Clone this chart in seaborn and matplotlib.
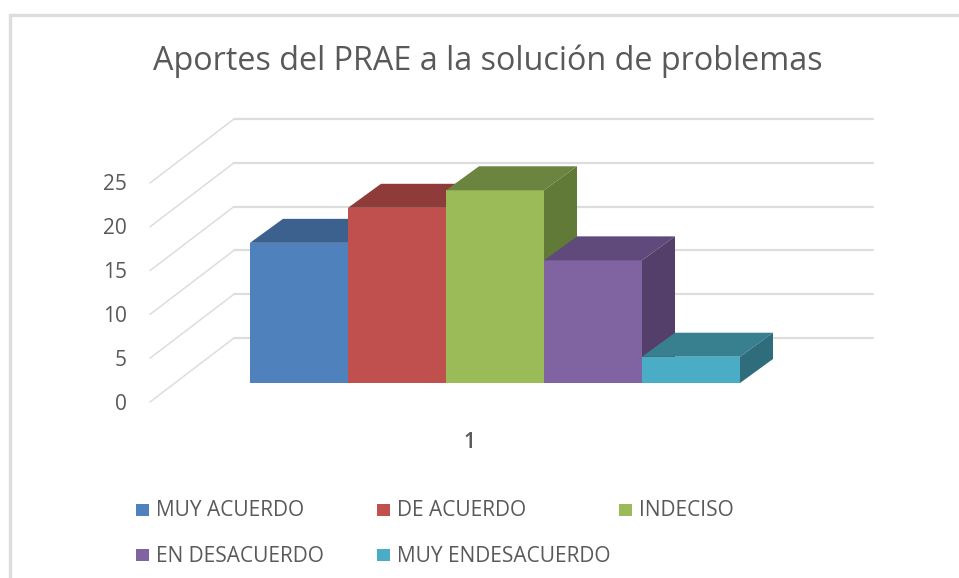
import matplotlib
matplotlib.use('Agg')
import matplotlib.pyplot as plt
import pandas as pd
import seaborn as sns
from matplotlib.patches import Polygon, Rectangle
from matplotlib.transforms import Affine2D

categories = ['MUY ACUERDO', 'DE ACUERDO', 'INDECISO', 'EN DESACUERDO', 'MUY ENDESACUERDO']
values = [16, 20, 22, 14, 3]
y_ticks = [0, 5, 10, 15, 20, 25]
front_colors = ['#4F81BD', '#C0504D', '#9BBB59', '#8064A2', '#4BACC6']
top_colors = ['#3D618F', '#8F3B39', '#6B8440', '#604A7B', '#38808F']
side_colors = ['#3A5A85', '#7F3432', '#617A37', '#533F6A', '#2F6D7D']

W, H = 959, 578
PX_PER_UNIT = 8.76
BASE_Y = 383
BAR_LEFT, BAR_RIGHT = 250, 740
UNIT_X = (BAR_RIGHT - BAR_LEFT) / 0.8
DEPTH_X, DEPTH_Y = 33, 24
GREY = '#DDDDDD'
TEXT = '#595959'

sns.set_theme(style='white')
plt.rcParams['font.family'] = ['Open Sans', 'DejaVu Sans']

fig = plt.figure(figsize=(W / 100, H / 100), dpi=100)
ax = fig.add_axes([0, 0, 1, 1])
px = Affine2D().scale(1, -1).translate(0, H)

df = pd.DataFrame({'x': ['1'] * 5, 'respuesta': categories, 'n': values})
sns.barplot(data=df, x='x', y='n', hue='respuesta', palette=front_colors, width=0.8,
            gap=0, legend=False, ax=ax, linewidth=0, saturation=1)

center = (BAR_LEFT + BAR_RIGHT) / 2
ax.set_xlim(-center / UNIT_X, (W - center) / UNIT_X)
ax.set_ylim(-(H - BASE_Y) / PX_PER_UNIT, BASE_Y / PX_PER_UNIT)
ax.axis('off')

# chart frame, only top and left show in the crop
ax.plot([10, 10, W], [H, 14.5, 14.5], color=GREY, lw=2.4, transform=px, clip_on=False,
        solid_joinstyle='miter')

# back wall and side wall lines
for v in y_ticks:
    y_back = 338 - v * PX_PER_UNIT
    y_front = 402 - v * PX_PER_UNIT
    ax.plot([150, 234], [y_front, y_back], color=GREY, lw=1.1, transform=px, zorder=1)
    ax.plot([234, 873], [y_back, y_back], color=GREY, lw=1.6, transform=px, zorder=1)
    ax.text(127, y_front + 2, str(v), color=TEXT, fontsize=15, ha='right', va='center', transform=px)

# depth faces of each bar
dx = DEPTH_X / UNIT_X
dy = DEPTH_Y / PX_PER_UNIT
for i, bar in enumerate(ax.patches[:5]):
    x0 = bar.get_x()
    x1 = x0 + bar.get_width()
    h = bar.get_height()
    bar.set_zorder(3 + i)
    ax.add_patch(Polygon([(x0, h), (x1, h), (x1 + dx, h + dy), (x0 + dx, h + dy)],
                         facecolor=top_colors[i], edgecolor='none', zorder=3 + i))
    ax.add_patch(Polygon([(x1, 0), (x1 + dx, dy), (x1 + dx, h + dy), (x1, h)],
                         facecolor=side_colors[i], edgecolor='none', zorder=3 + i))

ax.text(488, 61.5, 'Aportes del PRAE a la solución de problemas', color=TEXT, fontsize=23.3,
        ha='center', va='center', transform=px)
ax.text(469, 443, '1', color=TEXT, fontsize=15, ha='center', va='center', transform=px,
        fontweight='semibold')

# legend laid out by hand to keep the uneven columns
legend_x = [136, 377, 619, 136, 377]
legend_y = [510, 510, 510, 555, 555]
for name, color, lx, ly in zip(categories, front_colors, legend_x, legend_y):
    ax.add_patch(Rectangle((lx, ly - 6), 13, 12, facecolor=color, edgecolor='none', transform=px))
    ax.text(lx + 20, ly + 1, name, color=TEXT, fontsize=15, ha='left', va='center', transform=px)

fig.savefig('out.png', dpi=100)
